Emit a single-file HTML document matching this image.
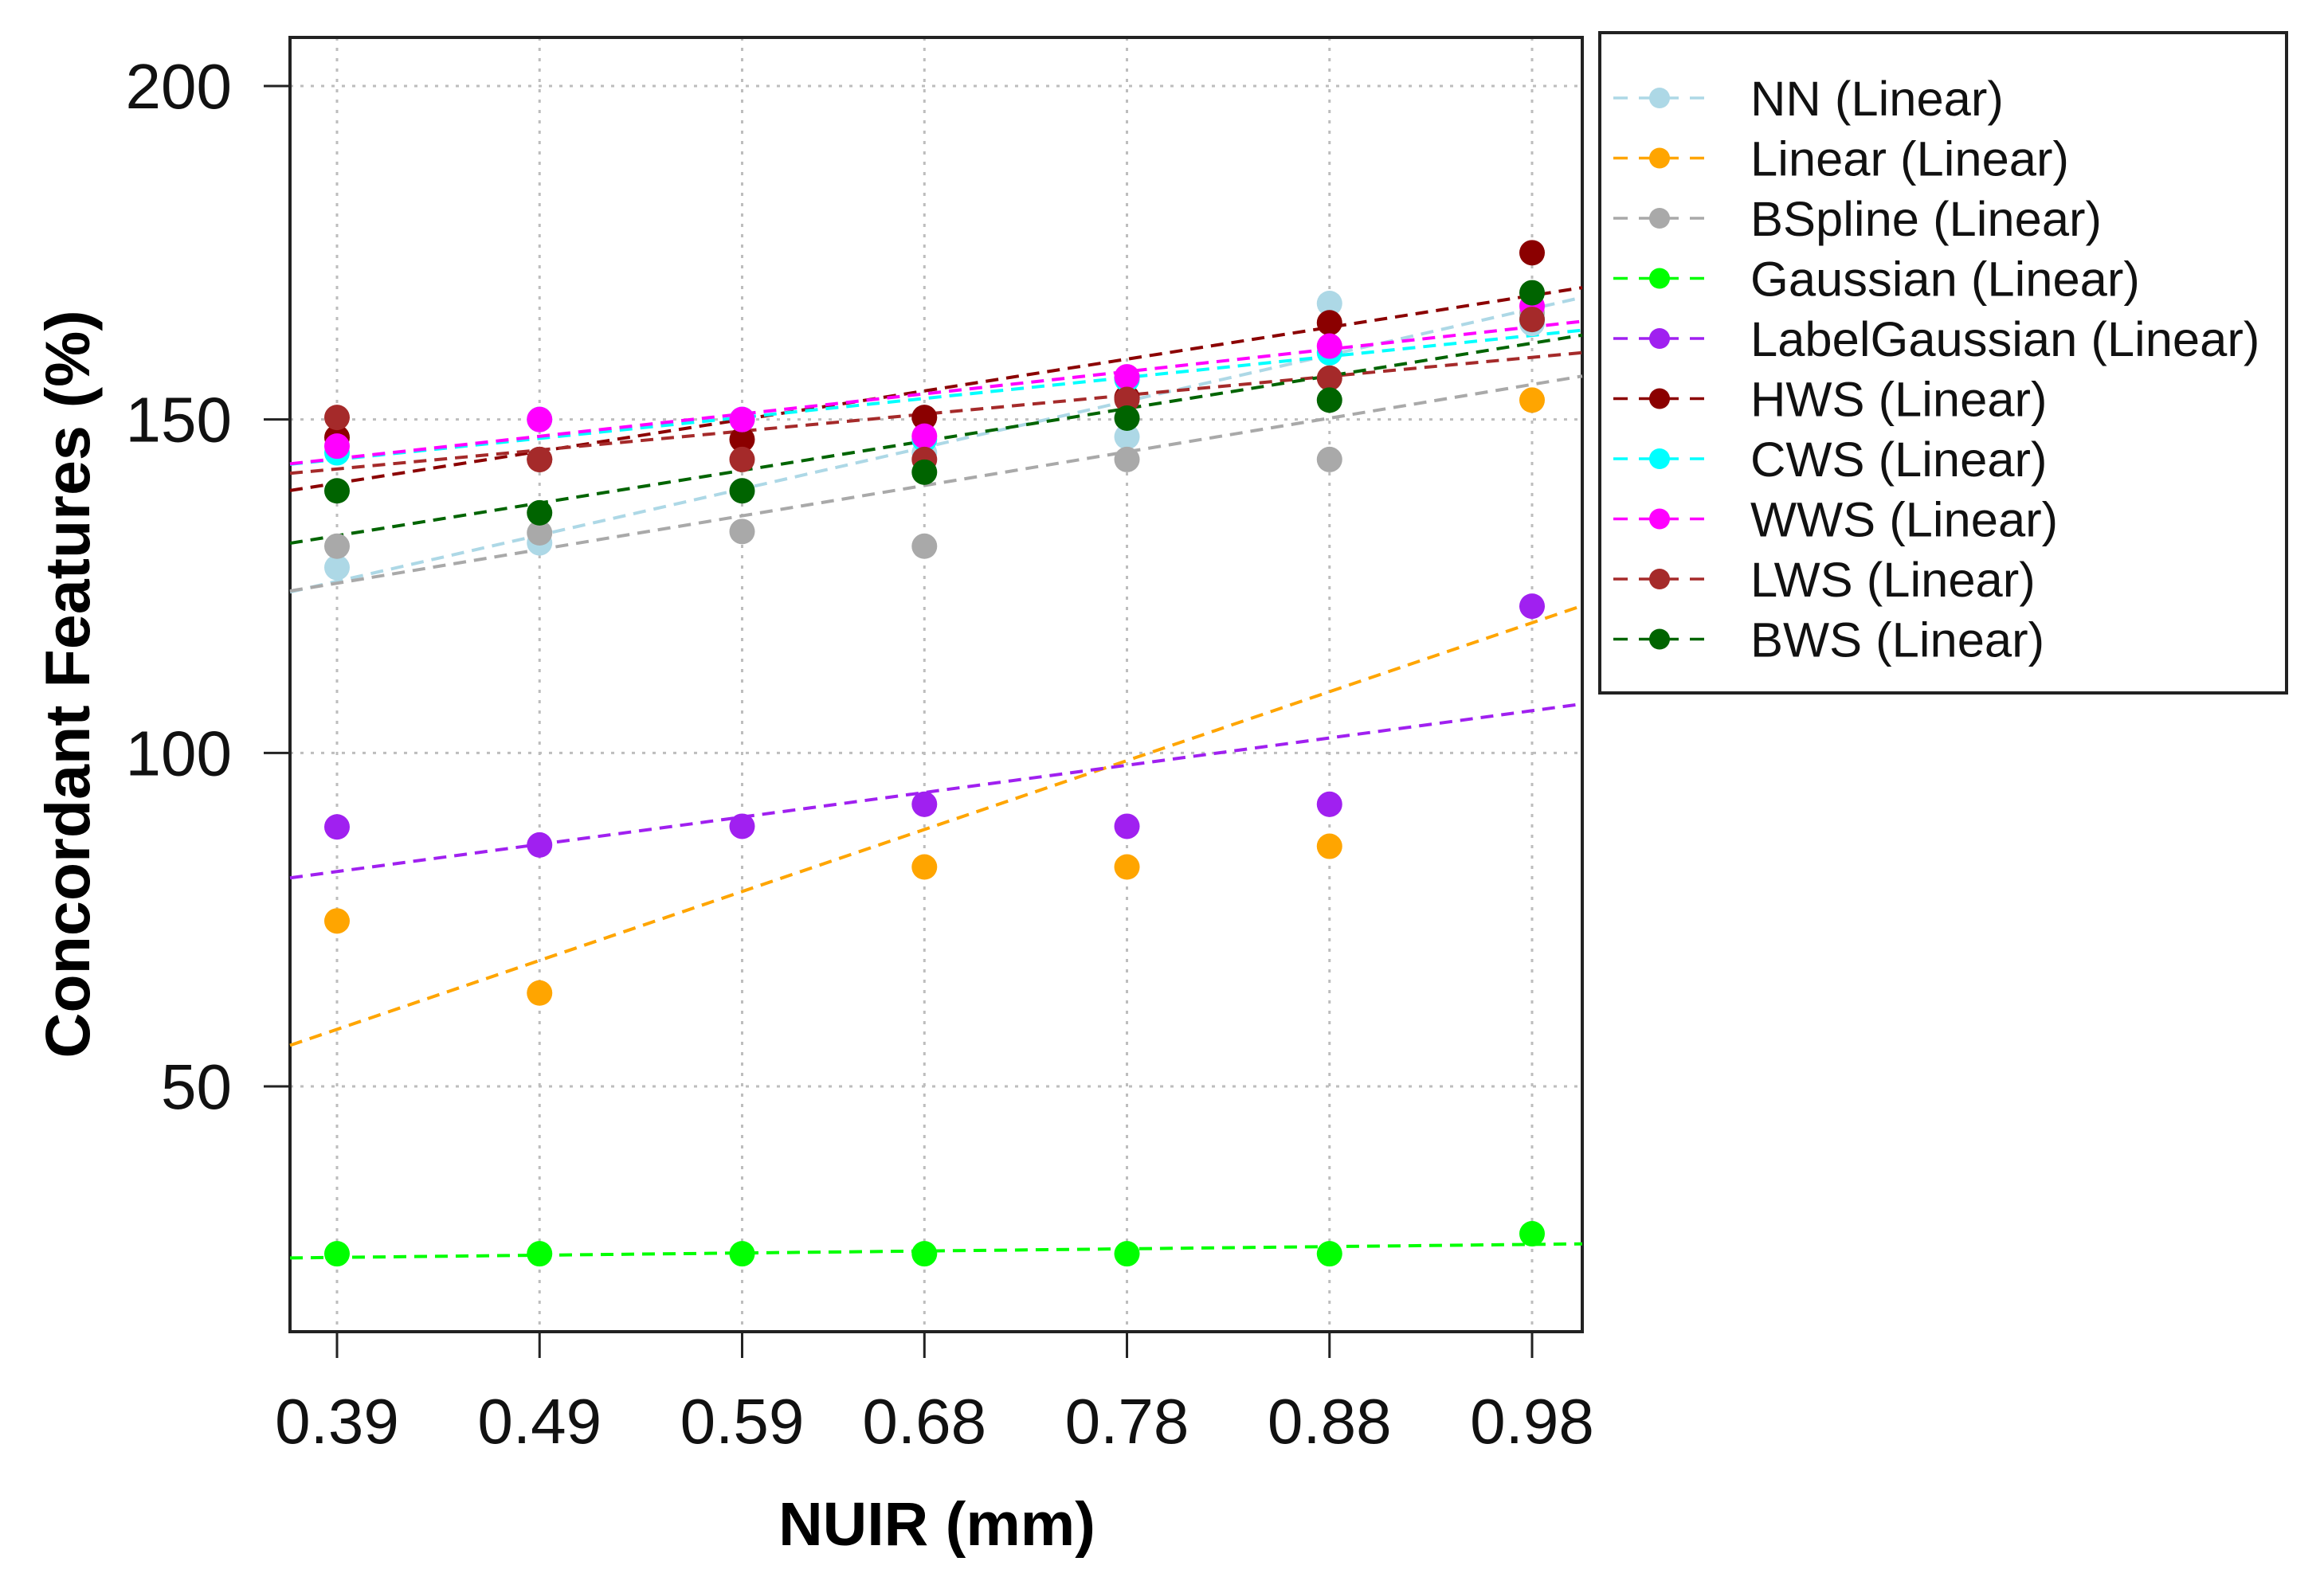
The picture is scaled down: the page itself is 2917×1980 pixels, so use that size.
<!DOCTYPE html>
<html><head><meta charset="utf-8">
<style>
html,body{margin:0;padding:0;background:#fff;}
svg{display:block;font-family:"Liberation Sans",Arial,sans-serif;}
</style></head>
<body>
<svg id="chart" width="2917" height="1980" viewBox="0 0 2917 1980">
<g id="grid"></g>
<g id="axes"></g>
<g id="series"></g>
<g id="legend"></g>
</svg>
<script>
const xCategories = [0.39, 0.49, 0.59, 0.68, 0.78, 0.88, 0.98];
const xTickLabels = ["0.39","0.49","0.59","0.68","0.78","0.88","0.98"];
const yTicks = [50, 100, 150, 200];
const seriesNames = ["NN (Linear)","Linear (Linear)","BSpline (Linear)","Gaussian (Linear)","LabelGaussian (Linear)","HWS (Linear)","CWS (Linear)","WWS (Linear)","LWS (Linear)","BWS (Linear)"];
const seriesColors = ["#add8e6","#ffa500","#a9a9a9","#00ff00","#a020f0","#8b0000","#00ffff","#ff00ff","#a52a2a","#006400"];
const nnValues = [127.8, 131.5, 139.3, 145, 147.4, 167.4, 164.4];
const linearValues = [74.8, 64, null, 82.9, 82.9, 86, 152.9];
const bsplineValues = [131, 133, 133.2, 131, 144, 144, 166];
const gaussianValues = [24.9, 24.9, 24.9, 24.9, 24.9, 24.9, 27.9];
const labelGaussianValues = [88.9, 86.2, 89, 92.3, 89, 92.3, 122];
const hwsValues = [147.3, 144, 147, 150.3, 153.3, 164.5, 175];
const cwsValues = [145, 150, 150, 147, 156, 160, 165];
const wwsValues = [146, 150, 150, 147.5, 156.4, 161, 167];
const lwsValues = [150.3, 144, 144, 144, 153, 156.2, 165];
const bwsValues = [139.3, 136, 139.3, 142.1, 150.2, 152.9, 169];
const allSeries = [nnValues, linearValues, bsplineValues, gaussianValues, labelGaussianValues, hwsValues, cwsValues, wwsValues, lwsValues, bwsValues];

const NS = "http://www.w3.org/2000/svg";
const PL = 364, PT = 47, PR = 1986, PB = 1672;
function xScale(v){ return 423 + (v - 0.39) * (1500 / 0.59); }
function yScale(v){ return 108 + (200 - v) * (1256 / 150); }
function xInv(px){ return 0.39 + (px - 423) * 0.59 / 1500; }
function mk(tag, attrs, parent){ const e = document.createElementNS(NS, tag); for (const k in attrs) e.setAttribute(k, attrs[k]); parent.appendChild(e); return e; }

const grid = document.getElementById('grid');
const axes = document.getElementById('axes');
const series = document.getElementById('series');
const legend = document.getElementById('legend');

xCategories.forEach((c, i) => {
  const g = mk('line', {x1: xScale(c), x2: xScale(c), y1: PT, y2: PB, stroke: '#bdbdbd', 'stroke-width': 3, 'stroke-dasharray': '4 9'}, grid);
  
  
  const t = mk('line', {x1: xScale(c), x2: xScale(c), y1: PB, y2: PB + 33, stroke: '#222', 'stroke-width': 3}, axes);
  
  
  const l = mk('text', {x: xScale(c), y: 1812, 'font-size': 80, 'text-anchor': 'middle', fill: '#111'}, axes);
  l.textContent = xTickLabels[i];
  
  
});
yTicks.forEach(v => {
  const g = mk('line', {x1: PL, x2: PR, y1: yScale(v), y2: yScale(v), stroke: '#bdbdbd', 'stroke-width': 3, 'stroke-dasharray': '4 9'}, grid);
  
  
  const t = mk('line', {x1: PL - 33, x2: PL, y1: yScale(v), y2: yScale(v), stroke: '#222', 'stroke-width': 3}, axes);
  
  
  const l = mk('text', {x: 291, y: yScale(v) + 28, 'font-size': 80, 'text-anchor': 'end', fill: '#111'}, axes);
  l.textContent = String(v);
  
  
});
const box = mk('rect', {x: PL, y: PT, width: PR - PL, height: PB - PT, fill: 'none', stroke: '#222', 'stroke-width': 4}, axes);


const xt = mk('text', {x: 1176, y: 1940, 'font-size': 77, 'font-weight': 'bold', 'text-anchor': 'middle', fill: '#000'}, axes);
xt.textContent = 'NUIR (mm)';


const yt = mk('text', {x: 0, y: 0, 'font-size': 79, 'font-weight': 'bold', 'text-anchor': 'middle', fill: '#000', transform: 'translate(112,859) rotate(-90)'}, axes);
yt.textContent = 'Concordant Features (%)';



const x0 = xInv(PL), x1 = xInv(PR);
allSeries.forEach((vals, si) => {
  const col = seriesColors[si];
  let n = 0, sx = 0, sy = 0, sxx = 0, sxy = 0;
  vals.forEach((v, i) => { if (v === null) return; const x = xCategories[i]; n++; sx += x; sy += v; sxx += x * x; sxy += x * v; });
  const b = (n * sxy - sx * sy) / (n * sxx - sx * sx);
  const a = (sy - b * sx) / n;
  const ln = mk('line', {x1: PL, y1: yScale(a + b * x0), x2: PR, y2: yScale(a + b * x1), stroke: col, 'stroke-width': 4, 'stroke-dasharray': '16 10'}, series);
  
  
});
allSeries.forEach((vals, si) => {
  const col = seriesColors[si];
  vals.forEach((v, i) => {
    if (v === null) return;
    const c = mk('circle', {cx: xScale(xCategories[i]), cy: yScale(v), r: 16, fill: col}, series);
    
    
  });
});

const lb = mk('rect', {x: 2008, y: 41, width: 862, height: 829, fill: '#fff', stroke: '#222', 'stroke-width': 4}, legend);


seriesNames.forEach((nm, i) => {
  const y = 123 + i * 75.5;
  const col = seriesColors[i];
  const l = mk('line', {x1: 2025, x2: 2140, y1: y, y2: y, stroke: col, 'stroke-width': 3.5, 'stroke-dasharray': '18 14'}, legend);
  
  
  const c = mk('circle', {cx: 2083, cy: y, r: 13, fill: col}, legend);
  
  
  const t = mk('text', {x: 2197, y: y + 22, 'font-size': 61.5, fill: '#111'}, legend);
  t.textContent = nm;
  
  
});
</script>
</body></html>
